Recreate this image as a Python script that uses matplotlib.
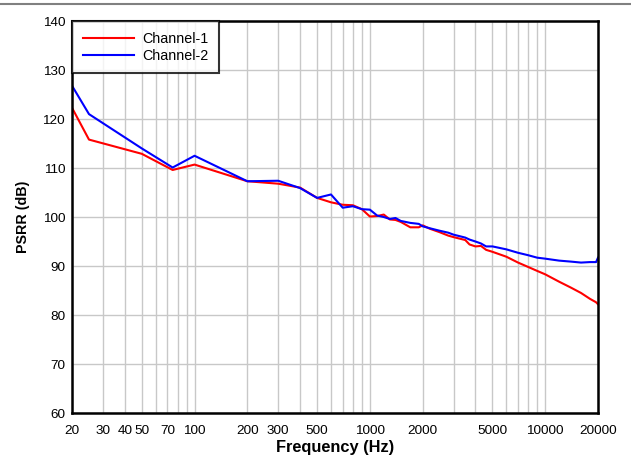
import matplotlib.pyplot as plt
from matplotlib.lines import Line2D
from matplotlib.ticker import FixedLocator, NullFormatter

plt.rcParams['font.family'] = ['Liberation Sans', 'DejaVu Sans']

freq = [20, 25, 50, 75, 100, 200, 300, 400, 500, 600, 700, 800, 900, 1000,
        1100, 1200, 1300, 1400, 1500, 1700, 1900, 2000, 2200, 2500, 2800, 3000,
        3500, 3700, 4000, 4300, 4600, 5000, 6000, 7000, 8000, 9000, 10000,
        12000, 14000, 16000, 18000, 19500, 20000]
ch1 = [122.3, 115.8, 112.9, 109.6, 110.7, 107.3, 106.8, 106.0, 103.9, 103.0,
       102.5, 102.4, 101.6, 100.1, 100.2, 100.5, 99.5, 99.4, 99.0, 97.9, 97.9,
       98.3, 97.6, 96.9, 96.2, 95.9, 95.3, 94.4, 94.0, 94.1, 93.3, 92.9, 91.9,
       90.7, 89.8, 89.0, 88.3, 86.8, 85.6, 84.5, 83.3, 82.6, 82.2]
ch2 = [126.8, 121.0, 114.0, 110.1, 112.5, 107.3, 107.4, 105.9, 103.9, 104.6,
       101.9, 102.2, 101.6, 101.5, 100.3, 100.0, 99.6, 99.8, 99.2, 98.8, 98.6,
       98.1, 97.7, 97.2, 96.8, 96.4, 95.8, 95.4, 95.0, 94.6, 94.0, 94.0, 93.4,
       92.7, 92.2, 91.7, 91.5, 91.1, 90.9, 90.7, 90.8, 90.8, 91.7]

xticks = [20, 30, 40, 50, 70, 100, 200, 300, 500, 1000, 2000, 5000, 10000, 20000]
yticks = [60, 70, 80, 90, 100, 110, 120, 130, 140]

fig = plt.figure(figsize=(6.31, 4.55), dpi=100)
ax = fig.add_axes([0.1141, 0.0923, 0.8336, 0.8615])

# grey rule across the top of the page
fig.add_artist(Line2D([0, 1], [0.992, 0.992], color='#808080', lw=1.5,
                      transform=fig.transFigure))

ax.plot(freq, ch1, color='#ff0000', lw=1.5, label='Channel-1')
ax.plot(freq, ch2, color='#0000ff', lw=1.5, label='Channel-2')

ax.set_xscale('log')
ax.set_xlim(20, 20000)
ax.set_ylim(60, 140)

minor = [m * 10 ** e for e in range(1, 5) for m in range(1, 10)]
ax.xaxis.set_minor_locator(FixedLocator([v for v in minor if 20 <= v <= 20000]))
ax.xaxis.set_minor_formatter(NullFormatter())
ax.set_xticks(xticks)
ax.set_xticklabels([str(t) for t in xticks])
ax.set_yticks(yticks)

ax.grid(True, which='both', axis='x', color='#c8c8c8', lw=1)
ax.grid(True, which='major', axis='y', color='#c8c8c8', lw=1)
ax.tick_params(which='both', length=0, labelsize=9.7)
ax.tick_params(axis='x', pad=8.5)
ax.tick_params(axis='y', pad=5)

for s in ax.spines.values():
    s.set_linewidth(1.8)
    s.set_color('black')

ax.set_xlabel('Frequency (Hz)', fontsize=11.8, fontweight='bold', labelpad=2)
ax.set_ylabel('PSRR (dB)', fontsize=10.3, fontweight='bold', labelpad=9)

leg = ax.legend(loc='upper left', fontsize=10.3, frameon=True, fancybox=False,
                borderaxespad=0, handlelength=3.6, handletextpad=0.55,
                borderpad=0.75, labelspacing=0.2)
leg.get_frame().set_edgecolor('black')
leg.get_frame().set_linewidth(1.5)

fig.savefig('out.png', dpi=100)
